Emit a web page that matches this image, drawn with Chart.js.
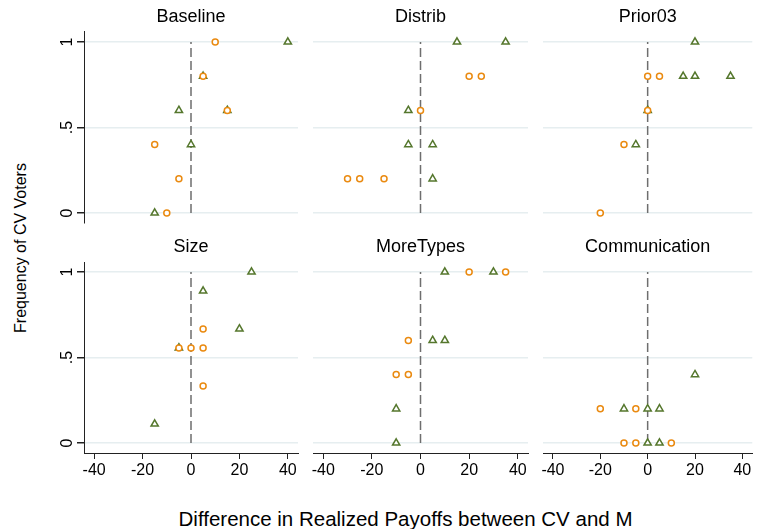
<!DOCTYPE html>
<html>
<head>
<meta charset="utf-8">
<script src="https://cdn.jsdelivr.net/npm/chart.js@4.4.1/dist/chart.umd.min.js"></script>
<style>
  body { margin: 0; background: #fff; }
  #wrap { position: relative; width: 758px; height: 529px; overflow: hidden; font-family: 'Liberation Sans', Arial, sans-serif; color: #000; }
  #wrap canvas { position: absolute; left: 0; top: 0; }
  .xtitle { position: absolute; left: 405.5px; top: 508.5px; font-size: 20.5px; line-height: 1; white-space: nowrap; transform: translateX(-50%); }
  .ytitle { position: absolute; left: 21px; top: 247.5px; font-size: 16px; line-height: 1; white-space: nowrap; transform: translate(-50%, -50%) rotate(-90deg); }
</style>
</head>
<body>
<div id="wrap">
  <div class="xtitle">Difference in Realized Payoffs between CV and M</div>
  <div class="ytitle">Frequency of CV Voters</div>
</div>
<script>
// tick values / labels
const yTickValues = [0, 0.5, 1];
const yTickLabels = ['0', '.5', '1'];
const xTickValues = [-40, -20, 0, 20, 40];
const xTickLabels = ['-40', '-20', '0', '20', '40'];

const panelTitles = ['Baseline', 'Distrib', 'Prior03', 'Size', 'MoreTypes', 'Communication'];

// [x, y] pairs: orange circles and green triangles
const baselineOrange = [[10, 1], [5, 0.8], [15, 0.6], [-15, 0.4], [-5, 0.2], [-10, 0]];
const baselineGreen = [[40, 1], [5, 0.8], [-5, 0.6], [15, 0.6], [0, 0.4], [-15, 0]];
const distribOrange = [[20, 0.8], [25, 0.8], [0, 0.6], [-30, 0.2], [-25, 0.2], [-15, 0.2]];
const distribGreen = [[15, 1], [35, 1], [-5, 0.6], [-5, 0.4], [5, 0.4], [5, 0.2]];
const prior03Orange = [[0, 0.8], [5, 0.8], [0, 0.6], [-10, 0.4], [-20, 0]];
const prior03Green = [[20, 1], [15, 0.8], [20, 0.8], [35, 0.8], [0, 0.6], [-5, 0.4]];
const sizeOrange = [[5, 0.667], [-5, 0.556], [0, 0.556], [5, 0.556], [5, 0.333]];
const sizeGreen = [[25, 1], [5, 0.889], [20, 0.667], [-5, 0.556], [-15, 0.111]];
const moreTypesOrange = [[20, 1], [35, 1], [-5, 0.6], [-10, 0.4], [-5, 0.4]];
const moreTypesGreen = [[10, 1], [30, 1], [5, 0.6], [10, 0.6], [-10, 0.2], [-10, 0]];
const communicationOrange = [[-20, 0.2], [-5, 0.2], [-10, 0], [-5, 0], [10, 0]];
const communicationGreen = [[20, 0.4], [-10, 0.2], [0, 0.2], [5, 0.2], [0, 0], [5, 0]];

const orangeSeries = [baselineOrange, distribOrange, prior03Orange, sizeOrange, moreTypesOrange, communicationOrange];
const greenSeries = [baselineGreen, distribGreen, prior03Green, sizeGreen, moreTypesGreen, communicationGreen];

// dashed reference line at x = 0
const refLineX = 0;

// layout (pixels)
const W = 758, H = 529;
const colLeft = [84, 313, 543];
const colRight = [298, 528, 757];
const rowTop = [32, 262];
const rowBottom = [223, 453];
const yAxisW = 40, xAxisH = 40, titleBoxH = 25.5;

const ORANGE = '#ea8a10';
const GREEN = '#55772d';
const FONT = "'Liberation Sans', Arial, sans-serif";

Chart.defaults.font.family = FONT;
Chart.defaults.color = '#000';

const toPoints = arr => arr.map(p => ({ x: p[0], y: p[1] }));

function makePanel(i) {
    const col = i % 3, row = Math.floor(i / 3);
    const isLeft = col === 0, isBottom = row === 1;

    const canvas = document.createElement('canvas');
    canvas.width = W;
    canvas.height = H;
    document.getElementById('wrap').appendChild(canvas);

    new Chart(canvas, {
        type: 'scatter',
        data: {
            datasets: [{
                data: toPoints(orangeSeries[i]),
                pointStyle: 'circle',
                pointRadius: 3,
                borderWidth: 1.5,
                borderColor: ORANGE,
                backgroundColor: '#fff',
                order: 0
            }, {
                data: toPoints(greenSeries[i]),
                pointStyle: 'triangle',
                pointRadius: 4.2,
                borderWidth: 1.5,
                borderColor: GREEN,
                backgroundColor: '#fff',
                order: 1
            }, {
                data: [{ x: refLineX, y: yTickValues[0] }, { x: refLineX, y: yTickValues[yTickValues.length - 1] }],
                showLine: true,
                pointRadius: 0,
                borderColor: '#6e6e6e',
                borderWidth: 1.5,
                borderDash: [9, 4],
                order: 2
            }]
        },
        options: {
            responsive: false,
            animation: false,
            events: [],
            layout: {
                padding: {
                    left: colLeft[col] - (isLeft ? yAxisW : 0),
                    right: W - colRight[col],
                    top: rowTop[row] - titleBoxH,
                    bottom: H - rowBottom[row] - (isBottom ? xAxisH : 0)
                }
            },
            plugins: {
                legend: { display: false },
                tooltip: { enabled: false },
                title: {
                    display: true,
                    text: panelTitles[i],
                    fullSize: false,
                    color: '#000',
                    font: { size: 18, weight: 'normal', lineHeight: 1.2 },
                    padding: { top: 0, bottom: 3.9 }
                }
            },
            scales: {
                x: {
                    type: 'linear',
                    min: -44.2,
                    max: 44.2,
                    display: isBottom,
                    afterFit: s => { s.height = isBottom ? xAxisH : 0; },
                    afterBuildTicks: s => { s.ticks = xTickValues.map(v => ({ value: v })); },
                    grid: { drawOnChartArea: false, tickLength: 6, tickColor: '#222' },
                    border: { display: true, color: '#222', width: 1 },
                    ticks: {
                        autoSkip: false,
                        maxRotation: 0,
                        padding: 2,
                        font: { size: 16 },
                        callback: (v, idx) => xTickLabels[idx]
                    }
                },
                y: {
                    type: 'linear',
                    min: -0.0585,
                    max: 1.0585,
                    afterFit: s => { s.width = isLeft ? yAxisW : 0; },
                    afterBuildTicks: s => { s.ticks = yTickValues.map(v => ({ value: v })); },
                    grid: {
                        color: '#e6eef0',
                        lineWidth: 1.5,
                        drawTicks: isLeft,
                        tickLength: isLeft ? 7 : 0,
                        tickColor: '#222'
                    },
                    border: { display: isLeft, color: '#222', width: 1 },
                    ticks: {
                        display: isLeft,
                        autoSkip: false,
                        minRotation: 90,
                        maxRotation: 90,
                        crossAlign: 'center',
                        padding: 3,
                        font: { size: 16 },
                        callback: (v, idx) => yTickLabels[idx]
                    }
                }
            }
        }
    });
}

panelTitles.forEach((t, i) => makePanel(i));
</script>
</body>
</html>
